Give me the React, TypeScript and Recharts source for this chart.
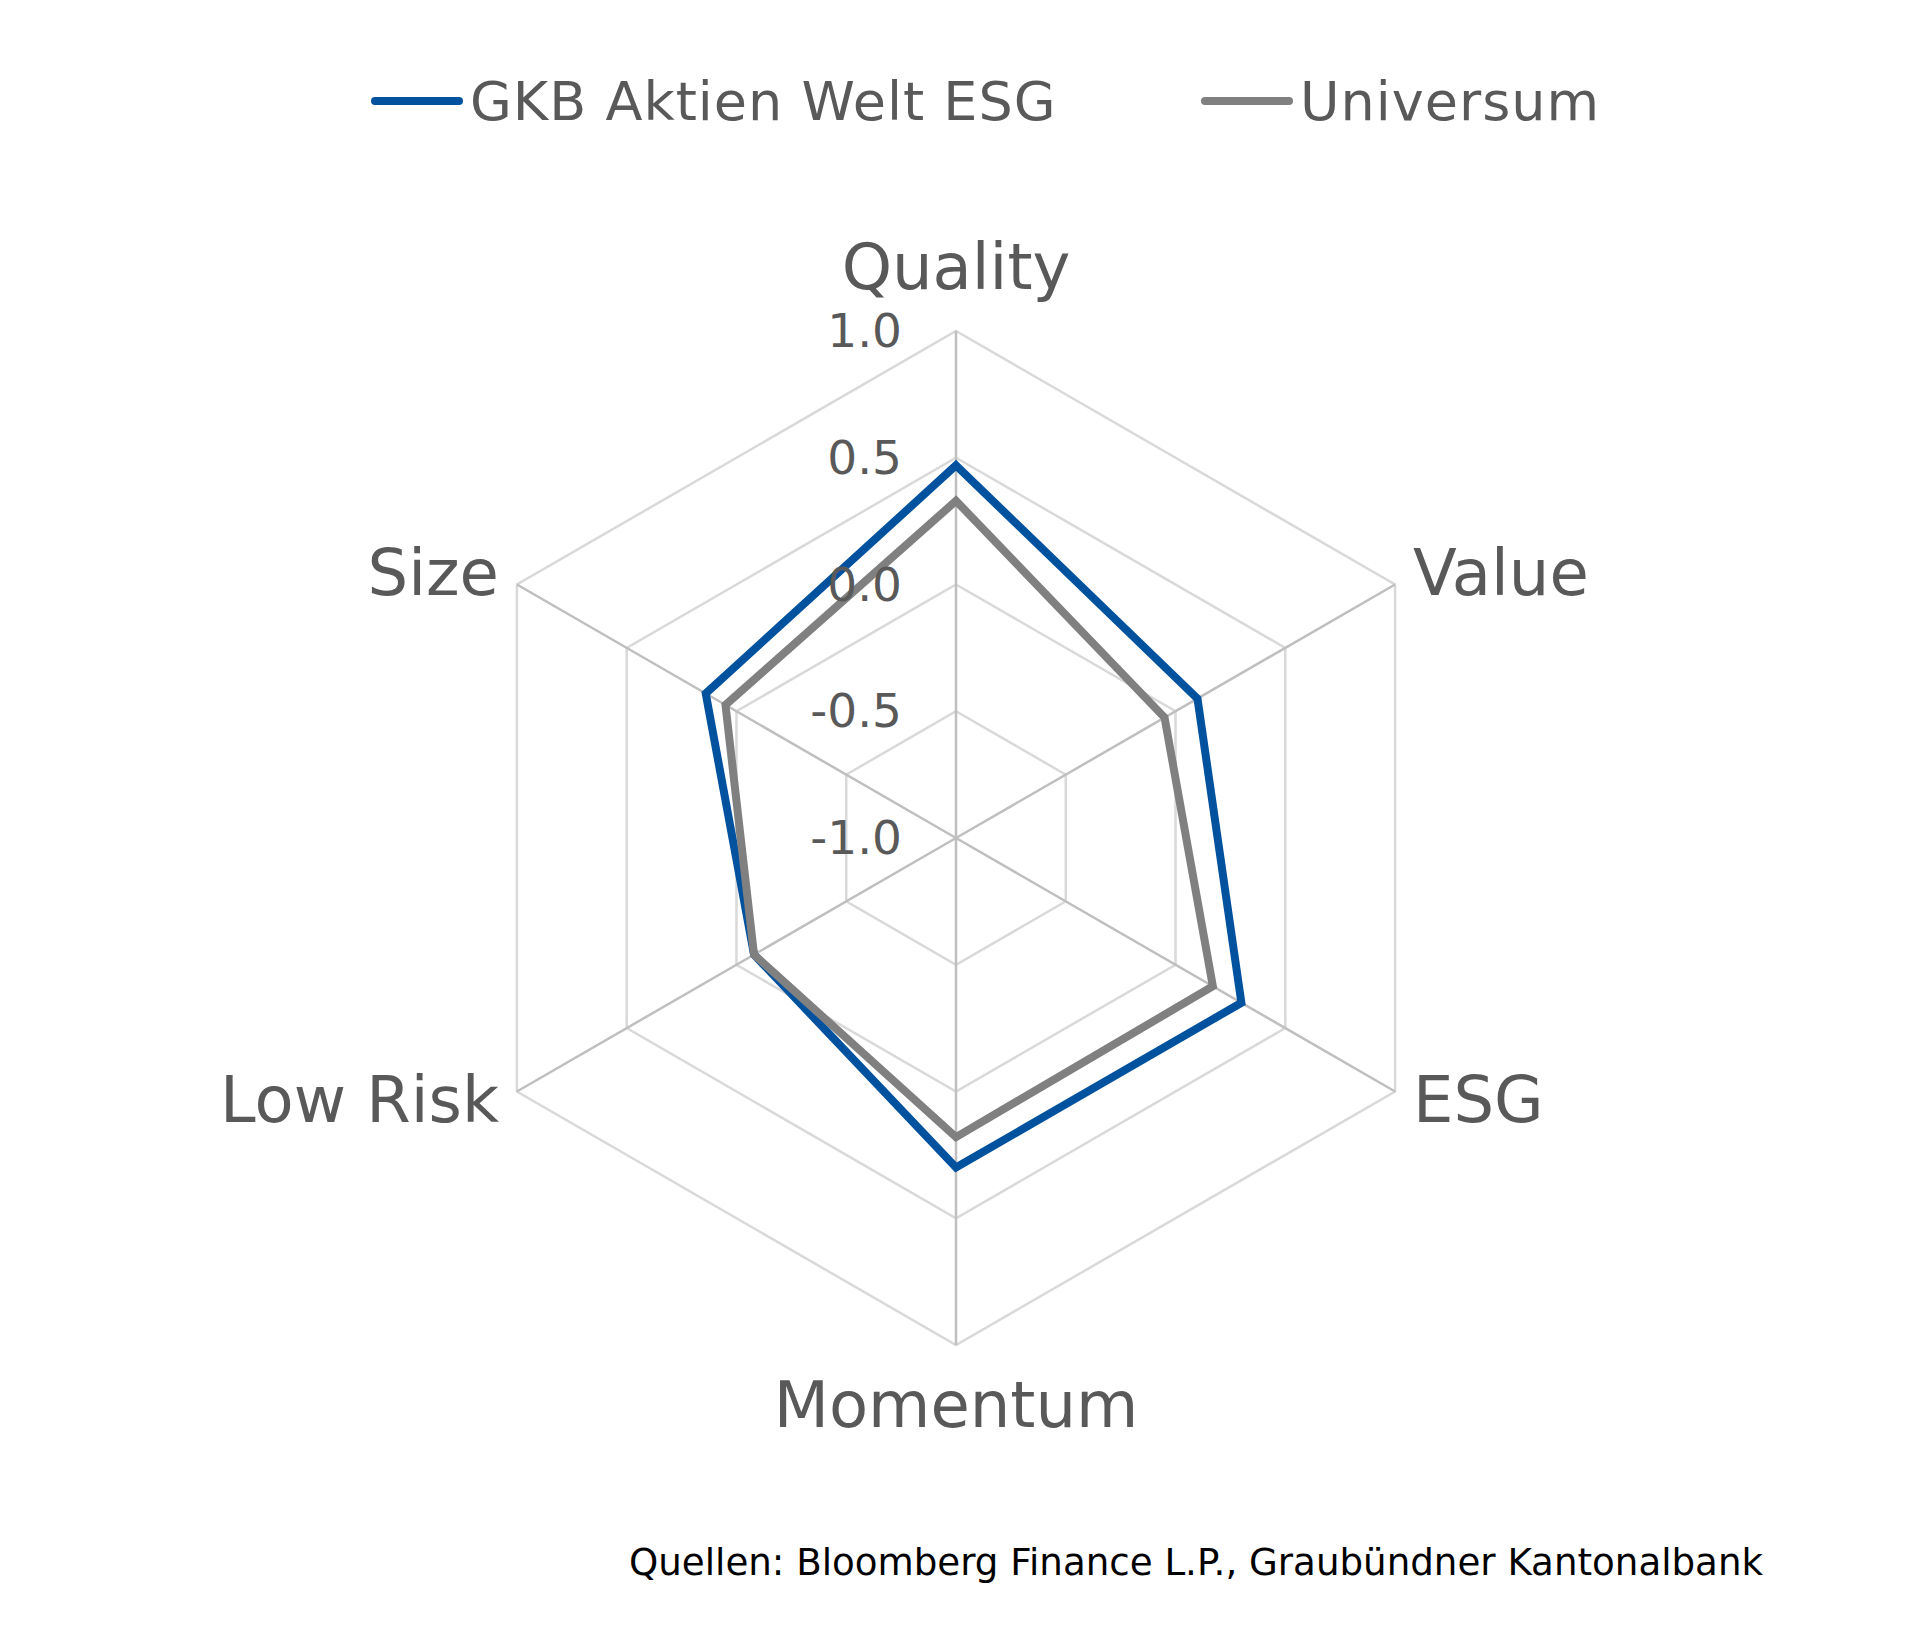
import { RadarChart, Radar, PolarGrid, PolarAngleAxis, PolarRadiusAxis, Legend } from "recharts";

const categories = ["Quality", "Value", "ESG", "Momentum", "Low Risk", "Size"];
const gkbValues = [0.47, 0.1, 0.3, 0.3, -0.08, 0.14];
const universumValues = [0.33, -0.05, 0.17, 0.18, -0.08, 0.05];
const radiusTicks = [-1, -0.5, 0, 0.5, 1];

const seriesNames = ["GKB Aktien Welt ESG", "Universum"];
const seriesColors = ["#00519e", "#808080"];

const data = categories.map((name, i) => ({
  name,
  gkb: gkbValues[i],
  universum: universumValues[i],
}));

const textColor = "#595959";
const font = "'DejaVu Sans', Verdana, sans-serif";

const AngleTick = (props: any) => {
  const { x, y, payload, textAnchor } = props;
  const a = (payload.coordinate * Math.PI) / 180;
  const cos = Math.cos(a);
  const sin = Math.sin(a);
  let tx = x;
  let ty = y;
  if (Math.abs(cos) < 1e-3) {
    ty = y - sin * 54;
  } else {
    tx = x + Math.sign(cos) * 11;
    ty = y - sin * 12;
  }
  return (
    <text x={tx} y={ty + 20} textAnchor={textAnchor} fontSize={64} fill={textColor} fontFamily={font}>
      {payload.value}
    </text>
  );
};

const RadiusTick = (props: any) => {
  const { x, y, payload } = props;
  return (
    <text x={x - 54} y={y + 16} textAnchor="end" fontSize={47} fill={textColor} fontFamily={font}>
      {Number(payload.value).toFixed(1)}
    </text>
  );
};

const legendLeft = [362, 1192];

const LegendContent = () => (
  <div style={{ position: "relative", width: 1897, height: 60 }}>
    {seriesNames.map((n, i) => (
      <div
        key={n}
        style={{ position: "absolute", left: legendLeft[i], top: 0, height: 60, display: "flex", alignItems: "center" }}
      >
        <svg width={94} height={12}>
          <line x1={5} y1={6} x2={89} y2={6} stroke={seriesColors[i]} strokeWidth={8} strokeLinecap="round" />
        </svg>
        <span style={{ fontSize: 54, color: textColor, fontFamily: font, marginLeft: 6, letterSpacing: 1 }}>{n}</span>
      </div>
    ))}
  </div>
);

export default function App() {
  return (
    <div style={{ position: "relative", width: 1897, height: 1620, fontFamily: font, background: "#fff" }}>
      <RadarChart width={1897} height={1620} data={data} cx={948} cy={830} outerRadius={507} margin={{ top: 0, right: 0, bottom: 0, left: 0 }}>
        <PolarGrid gridType="polygon" radialLines={false} stroke="#d9d9d9" strokeWidth={2.5} />
        <PolarGrid gridType="polygon" polarRadius={[0]} stroke="#bfbfbf" strokeWidth={2.5} />
        <PolarAngleAxis dataKey="name" tick={AngleTick} tickLine={false} axisLine={false} />
        <PolarRadiusAxis
          angle={90}
          type="number"
          domain={[-1, 1]}
          ticks={radiusTicks}
          tick={RadiusTick}
          tickLine={false}
          axisLine={false}
        />
        <Radar
          name={seriesNames[0]}
          dataKey="gkb"
          stroke={seriesColors[0]}
          strokeWidth={8}
          fill="none"
          fillOpacity={0}
          dot={false}
          isAnimationActive={false}
        />
        <Radar
          name={seriesNames[1]}
          dataKey="universum"
          stroke={seriesColors[1]}
          strokeWidth={8}
          fill="none"
          fillOpacity={0}
          dot={false}
          isAnimationActive={false}
        />
        <Legend content={LegendContent} wrapperStyle={{ top: 63, left: 0, width: 1897, height: 60 }} />
      </RadarChart>
      <div
        style={{
          position: "absolute",
          left: 621,
          top: 1536,
          fontSize: 37.2,
          lineHeight: "37px",
          color: "#000",
          fontFamily: font,
          whiteSpace: "nowrap",
        }}
      >
        Quellen: Bloomberg Finance L.P., Graubündner Kantonalbank
      </div>
    </div>
  );
}
